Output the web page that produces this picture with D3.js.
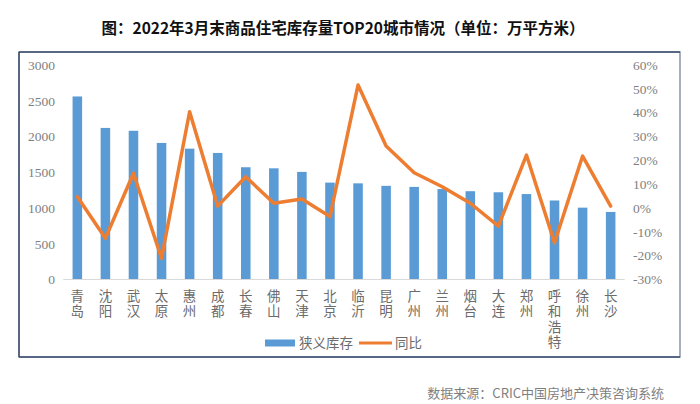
<!DOCTYPE html>
<html><head><meta charset="utf-8">
<script src="https://cdn.jsdelivr.net/npm/d3@7"></script>
<style>html,body{margin:0;padding:0;background:#fff;}svg{display:block;}</style>
</head><body>
<script>
const cities = ["青岛","沈阳","武汉","太原","惠州","成都","长春","佛山","天津","北京","临沂","昆明","广州","兰州","烟台","大连","郑州","呼和浩特","徐州","长沙"];
const stock = [2560,2120,2080,1910,1830,1770,1570,1555,1505,1355,1345,1310,1295,1265,1235,1220,1195,1105,1005,945];
const yoy = [4.7,-12.7,14.6,-21.1,40.4,0.8,13.1,2.0,3.8,-3.6,51.6,26.0,14.8,8.9,2.0,-7.6,22.2,-14.6,21.8,0.8];
const leftTicks = [0,500,1000,1500,2000,2500,3000];
const rightTicks = [-30,-20,-10,0,10,20,30,40,50,60];
const title = "图：2022年3月末商品住宅库存量TOP20城市情况（单位：万平方米）";
const source = "数据来源：CRIC中国房地产决策咨询系统";
const legendNames = ["狭义库存","同比"];

const W=700,H=404;
const svg=d3.select("body").append("svg").attr("width",W).attr("height",H);
const cjk='"Noto Sans CJK SC","Noto Sans",sans-serif';
const serif='"Liberation Serif","DejaVu Serif",serif';

svg.append("text").attr("x",343).attr("y",34).attr("text-anchor","middle")
  .attr("font-family",cjk).attr("font-weight","bold").attr("font-size",15.5).attr("fill","#111")
  .text(title);

// frame
svg.append("rect").attr("x",19).attr("y",52).attr("width",661).attr("height",305)
  .attr("fill","none").attr("stroke","#8a94a8").attr("stroke-width",1.5);
svg.append("line").attr("x1",19).attr("x2",680).attr("y1",52).attr("y2",52).attr("stroke","#3e4f72").attr("stroke-width",1.5);
svg.append("line").attr("x1",19).attr("x2",19).attr("y1",52).attr("y2",357).attr("stroke","#3e4f72").attr("stroke-width",1.5);
svg.append("line").attr("x1",19).attr("x2",680).attr("y1",357).attr("y2",357).attr("stroke","#3e4f72").attr("stroke-width",1.5);

const x=d3.scaleBand().domain(cities).range([63.3,624.7]).paddingInner(0.66).paddingOuter(0.33);
const yL=d3.scaleLinear().domain([0,3000]).range([279.5,65]);
const yR=d3.scaleLinear().domain([-30,60]).range([279.5,65]);

// bars
svg.append("g").selectAll("rect").data(stock).join("rect")
  .attr("x",(d,i)=>x(cities[i])).attr("width",x.bandwidth())
  .attr("y",d=>yL(d)).attr("height",d=>yL(0)-yL(d)).attr("fill","#5b9bd5");

// baseline
svg.append("line").attr("x1",63.3).attr("x2",624.7).attr("y1",yL(0)).attr("y2",yL(0)).attr("stroke","#d9d9d9").attr("stroke-width",1);

// line
const line=d3.line().x((d,i)=>x(cities[i])+x.bandwidth()/2).y(d=>yR(d));
svg.append("path").datum(yoy).attr("d",line).attr("fill","none").attr("stroke","#ed7d31")
  .attr("stroke-width",3.5).attr("stroke-linejoin","round").attr("stroke-linecap","round");

// left axis
const gl=svg.append("g").attr("transform","translate(55,0)")
  .call(d3.axisLeft(yL).tickValues(leftTicks).tickSize(0).tickPadding(0).tickFormat(d3.format("d")));
gl.select(".domain").remove();
gl.selectAll("text").attr("font-family",serif).attr("font-size",13.5).attr("fill","#808080");

// right axis
const gr=svg.append("g").attr("transform","translate(633,0)")
  .call(d3.axisRight(yR).tickValues(rightTicks).tickSize(0).tickPadding(0).tickFormat(d=>d+"%"));
gr.select(".domain").remove();
gr.selectAll("text").attr("font-family",serif).attr("font-size",13.5).attr("fill","#808080");

// x labels: vertical writing mode
svg.append("g").selectAll("text").data(cities).join("text")
  .attr("x",c=>x(c)+x.bandwidth()/2).attr("y",289)
  .attr("writing-mode","vertical-rl").attr("text-anchor","start")
  .attr("letter-spacing",2)
  .attr("font-family",cjk).attr("font-size",13.5).attr("fill","#6b6b6b")
  .text(c=>c);

// legend
const lg=svg.append("g");
lg.append("rect").attr("x",265).attr("y",339.5).attr("width",30).attr("height",7).attr("fill","#5b9bd5");
lg.append("text").attr("x",299).attr("y",348).attr("font-family",cjk).attr("font-size",13.5).attr("fill","#6b6b6b").text(legendNames[0]);
lg.append("line").attr("x1",359).attr("x2",392).attr("y1",343).attr("y2",343).attr("stroke","#ed7d31").attr("stroke-width",3);
lg.append("text").attr("x",395).attr("y",348).attr("font-family",cjk).attr("font-size",13.5).attr("fill","#6b6b6b").text(legendNames[1]);

svg.append("text").attr("x",664).attr("y",398).attr("text-anchor","end")
  .attr("font-family",cjk).attr("font-size",13).attr("fill","#7f7f7f").text(source);
</script>
</body></html>
